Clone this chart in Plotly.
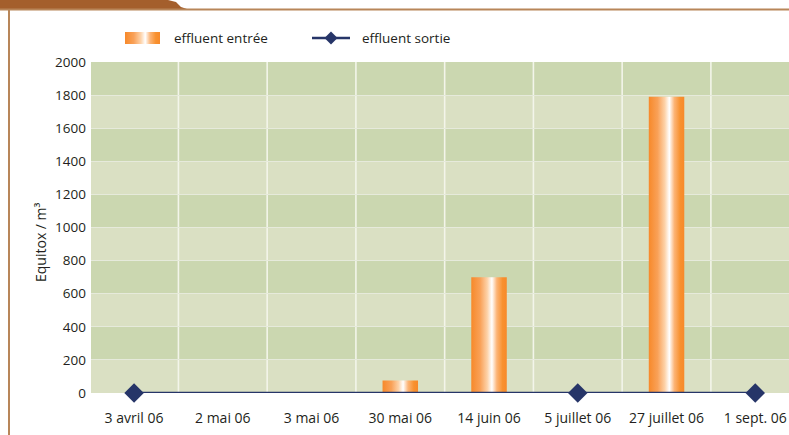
import plotly.graph_objects as go
from plotly.colors import sample_colorscale

# Sampling dates and measured toxicity (Equitox / m³)
dates = ["3 avril 06", "2 mai 06", "3 mai 06", "30 mai 06", "14 juin 06",
         "5 juillet 06", "27 juillet 06", "1 sept. 06"]
entree_idx = [3, 4, 6]
entree_vals = [75, 700, 1790]
sortie_idx = [0, 5, 7]
sortie_vals = [0, 0, 0]
y_ticks = [0, 200, 400, 600, 800, 1000, 1200, 1400, 1600, 1800, 2000]

ORANGE = "#f7892a"
NAVY = "#263568"
BROWN = "#a45f2c"
RULE = "#b88659"
BAND_DARK = "#cbd7b0"
BAND_LIGHT = "#dae0c3"
TEXT = "#231f20"
FONT = "Open Sans"

W, H = 789, 435
ML, MR, MT, MB = 91, 0, 62, 42
PW, PH = W - ML - MR, H - MT - MB


def px(x):
    """figure pixel column -> paper x"""
    return (x - ML) / PW


def py(y):
    """figure pixel row -> paper y"""
    return (H - MB - y) / PH


bar_half = 0.2
gradient = [[0.0, ORANGE], [0.25, "#f9a158"], [0.45, "#fdd2a8"],
            [0.58, "#ffffff"], [0.72, "#fcb476"], [0.88, "#f8912f"], [1.0, ORANGE]]

fig = go.Figure()

# "effluent entrée" bars drawn as filled rectangles with a horizontal sheen
for i, v in zip(entree_idx, entree_vals):
    fig.add_trace(go.Scatter(
        x=[i - bar_half, i + bar_half, i + bar_half, i - bar_half, i - bar_half],
        y=[0, 0, v, v, 0],
        mode="lines", fill="toself",
        fillgradient=dict(type="horizontal", colorscale=gradient),
        line=dict(width=0, color=ORANGE),
        name="effluent entrée", showlegend=False, hoverinfo="skip",
    ))

# "effluent sortie" line
fig.add_trace(go.Scatter(
    x=sortie_idx, y=sortie_vals, mode="lines+markers",
    line=dict(color=NAVY, width=2.5),
    marker=dict(symbol="diamond", size=15, color=NAVY),
    name="effluent sortie", cliponaxis=False, showlegend=False,
))

shapes = []
# alternating horizontal bands
for j in range(len(y_ticks) - 1):
    shapes.append(dict(type="rect", xref="paper", yref="y", x0=0, x1=1,
                       y0=y_ticks[j], y1=y_ticks[j + 1], layer="below",
                       line=dict(width=0),
                       fillcolor=BAND_DARK if j % 2 else BAND_LIGHT))
# white separators between dates
for j in range(len(dates) - 1):
    shapes.append(dict(type="line", xref="x", yref="paper", x0=j + 0.5, x1=j + 0.5,
                       y0=0, y1=1, layer="below",
                       line=dict(color="#f3f5ea", width=1.6)))

# frame: header tab, top rule and left rule
tab = [(0, 0), (168, 0), (176, 2), (181, 7), (187, 9), (0, 9)]
path = "M " + " L ".join(f"{px(a):.5f} {py(b):.5f}" for a, b in tab) + " Z"
shapes.append(dict(type="path", xref="paper", yref="paper", path=path,
                   line=dict(width=0), fillcolor=BROWN, layer="above"))
shapes.append(dict(type="line", xref="paper", yref="paper", x0=px(0), x1=px(W),
                   y0=py(9.5), y1=py(9.5), line=dict(color=RULE, width=2)))
shapes.append(dict(type="line", xref="paper", yref="paper", x0=px(9), x1=px(9),
                   y0=py(9), y1=py(H), line=dict(color=RULE, width=2)))

# legend: gradient swatch for the bars
sw_x0, sw_x1, sw_y0, sw_y1 = 125, 160, 32, 44
n_strips = sw_x1 - sw_x0
strip_cols = sample_colorscale(gradient, [(k + 0.5) / n_strips for k in range(n_strips)])
for k, c in enumerate(strip_cols):
    shapes.append(dict(type="rect", xref="paper", yref="paper",
                       x0=px(sw_x0 + k), x1=px(sw_x0 + k + 1),
                       y0=py(sw_y1), y1=py(sw_y0), line=dict(width=0), fillcolor=c))
# legend: line with diamond for the outlet
shapes.append(dict(type="line", xref="paper", yref="paper", x0=px(312), x1=px(350),
                   y0=py(38), y1=py(38), line=dict(color=NAVY, width=2.5)))
dm = [(331, 31.5), (337.5, 38), (331, 44.5), (324.5, 38)]
shapes.append(dict(type="path", xref="paper", yref="paper",
                   path="M " + " L ".join(f"{px(a):.5f} {py(b):.5f}" for a, b in dm) + " Z",
                   line=dict(width=0), fillcolor=NAVY))

annotations = [
    dict(text="effluent entrée", xref="paper", yref="paper", x=px(172), y=py(38),
         xanchor="left", yanchor="middle", showarrow=False, font=dict(size=13.5, color=TEXT)),
    dict(text="effluent sortie", xref="paper", yref="paper", x=px(360), y=py(38),
         xanchor="left", yanchor="middle", showarrow=False, font=dict(size=13.5, color=TEXT)),
    dict(text="Equitox / m³", xref="paper", yref="paper", x=px(40), y=py(242),
         xanchor="center", yanchor="middle", textangle=-90, showarrow=False,
         font=dict(size=14, color=TEXT)),
]

fig.update_layout(
    width=W, height=H,
    margin=dict(l=ML, r=MR, t=MT, b=MB, autoexpand=False),
    paper_bgcolor="white", plot_bgcolor=BAND_LIGHT,
    font=dict(family=FONT, size=13, color=TEXT),
    showlegend=False,
    shapes=shapes, annotations=annotations,
    xaxis=dict(range=[-0.485, 7.38], tickvals=list(range(len(dates))), ticktext=dates,
               showgrid=False, zeroline=False, showline=False, ticks="",
               ticklabelstandoff=15, fixedrange=True, automargin=False,
               tickfont=dict(size=14)),
    yaxis=dict(range=[0, 2000], tickvals=y_ticks, showgrid=True,
               gridcolor="#e6eadb", gridwidth=1, zeroline=False, showline=False,
               ticks="", ticklabelstandoff=4, automargin=False,
               tickfont=dict(size=13.5)),
)

fig.write_html("out.html")
